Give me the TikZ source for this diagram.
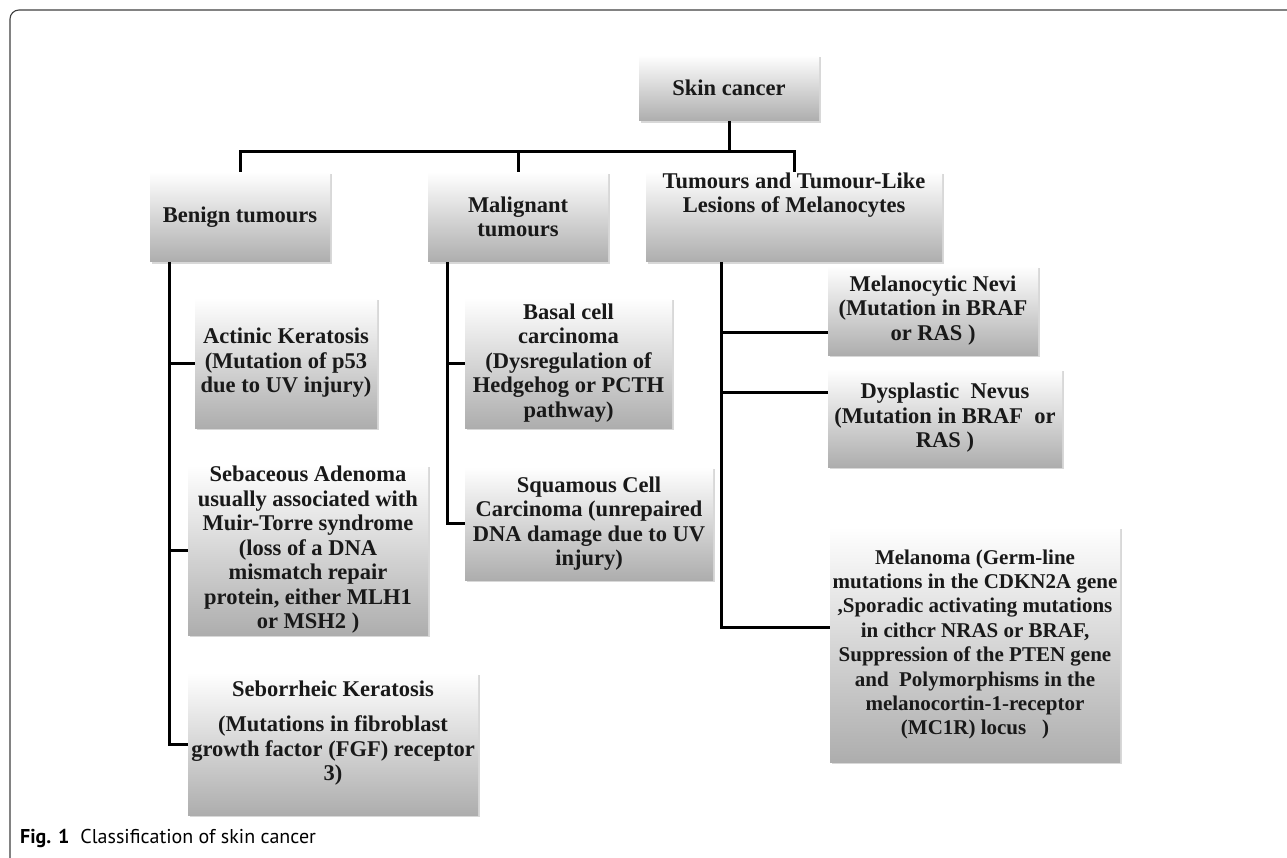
\documentclass[tikz,border=0pt]{standalone}
\usepackage{fontspec}
\setmainfont{Liberation Serif}
\newfontfamily\capfont{PT Sans}
\usetikzlibrary{shadows}
\begin{document}
\begin{tikzpicture}[x=1pt,y=-1pt,
  boxs/.style={inner sep=0pt, top color=white, bottom color=black!32, draw=none,
    drop shadow={opacity=0.3,shadow xshift=1.5pt,shadow yshift=-2pt}},
  txt/.style={align=center, font=\bfseries\fontsize{22.5}{24.5}\selectfont, text=black!90, inner sep=0pt},
  conn/.style={line width=3pt, black}]
\useasboundingbox (0,0) rectangle (1287,858);
\fill[white] (0,0) rectangle (1287,858);
\draw[black!75, line width=1.1pt, rounded corners=9pt] (1287,10) -- (10,10) -- (10,858);

% boxes
\node[boxs, txt, minimum width=180, minimum height=66] (sc) at (729,88) {Skin cancer};
\node[boxs, txt, minimum width=180, minimum height=90] (ben) at (240,217) {Benign tumours};
\node[boxs, txt, minimum width=180, minimum height=90] (mal) at (518,217) {Malignant\\tumours};
\node[boxs, minimum width=296, minimum height=90] (tum) at (794,217) {};
\node[txt] (tumt) at (794,195) {Tumours and Tumour-Like\\Lesions of Melanocytes};

\node[boxs, txt, minimum width=182, minimum height=130] (act) at (286,363) {Actinic Keratosis\\(Mutation of p53\\due to UV injury)};
\node[boxs, txt, minimum width=240, minimum height=170] (seba) at (308,550) {Sebaceous Adenoma\\usually associated with\\Muir-Torre syndrome\\(loss of a DNA\\mismatch repair\\protein, either MLH1\\or MSH2 )};
\node[boxs, minimum width=290, minimum height=142] (sebo) at (333,744) {};
\node[txt] (sebot) at (333,733) {Seborrheic Keratosis\\[11pt](Mutations in fibroblast\\growth factor (FGF) receptor\\3)};

\node[boxs, txt, minimum width=207, minimum height=130] (bas) at (568.5,363) {Basal cell\\carcinoma\\(Dysregulation of\\Hedgehog or PCTH\\pathway)};
\node[boxs, txt, minimum width=248, minimum height=113] (squ) at (589,523.5) {Squamous Cell\\Carcinoma (unrepaired\\DNA damage due to UV\\injury)};

\node[boxs, txt, minimum width=210, minimum height=89] (meln) at (933,310.5) {Melanocytic Nevi\\(Mutation in BRAF\\or RAS )};
\node[boxs, txt, minimum width=234, minimum height=98] (dys) at (945,418) {Dysplastic\ \ Nevus\\(Mutation in BRAF\ \ or\\RAS )};
\node[boxs, txt, font=\bfseries\fontsize{21}{24.4}\selectfont, minimum width=290, minimum height=235] (mela) at (975,644.5) {Melanoma (Germ-line\\mutations in the CDKN2A gene\\,Sporadic activating mutations\\in cithcr NRAS or BRAF,\\Suppression of the PTEN gene\\and\ \ Polymorphisms in the\\melanocortin-1-receptor\\(MC1R) locus\ \ \ )};

% connectors
\draw[conn] (sc.south) -- ++(0,31);
\draw[conn] (ben.north) -- ++(0,-20) -| (tum.north);
\draw[conn] (mal.north) -- ++(0,-20);

\coordinate (bv) at (169,262);
\draw[conn] (bv) |- (sebo.west);
\draw[conn] (act.west) -- (act.west -| bv);
\draw[conn] (seba.west) -- (seba.west -| bv);

\coordinate (mv) at (447,262);
\draw[conn] (mv) |- (squ.west);
\draw[conn] (bas.west) -- (bas.west -| mv);

\coordinate (tv) at (721,262);
\coordinate (melaj) at (830,627);
\draw[conn] (tv) |- (melaj);
\coordinate (melnj) at (828,333);
\draw[conn] (melnj) -- (melnj -| tv);
\coordinate (dysj) at (828,392);
\draw[conn] (dysj) -- (dysj -| tv);

\node[anchor=base west, inner sep=0pt, font=\capfont\fontsize{20}{23}\selectfont] (cap) at (20,843) {\textbf{Fig. 1}\hspace{0.55em}Classification of skin cancer};
\end{tikzpicture}
\end{document}
